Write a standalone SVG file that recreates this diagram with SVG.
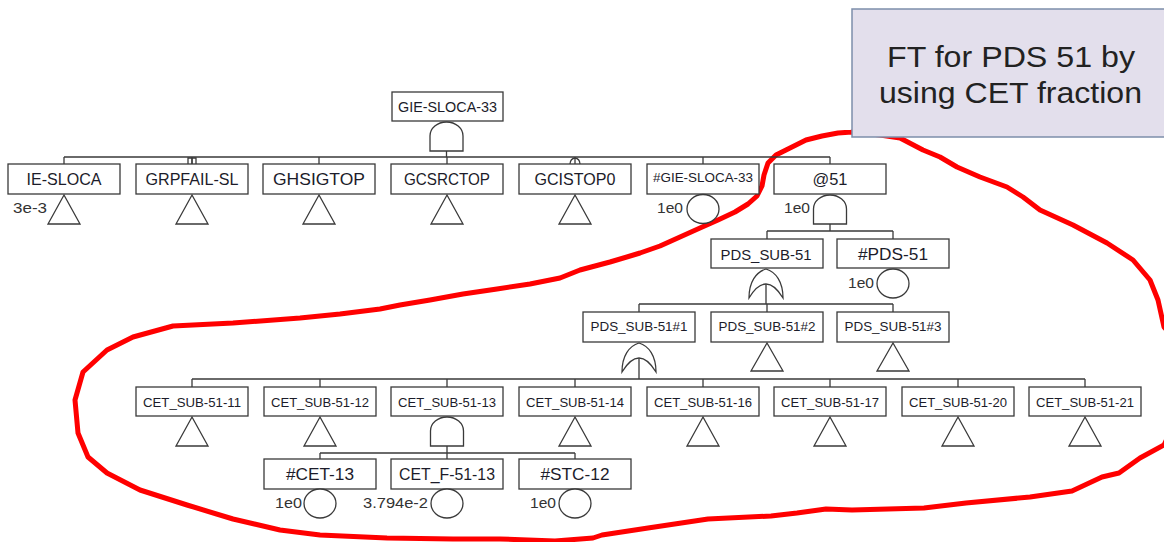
<svg xmlns="http://www.w3.org/2000/svg" width="1164" height="542" viewBox="0 0 1164 542">
<style>
.box{fill:#fff;stroke:#3a3a3a;stroke-width:1.3}
.ln{fill:none;stroke:#3a3a3a;stroke-width:1.3}
.gate{fill:#fff;stroke:#3a3a3a;stroke-width:1.3}
.t{font-family:"Liberation Sans",Arial,sans-serif;fill:#1c1c2a;text-anchor:middle}
.v{font-family:"Liberation Sans",Arial,sans-serif;fill:#333;text-anchor:end;font-size:14.5px}
.title{font-family:"Liberation Sans",Arial,sans-serif;fill:#222;font-size:30px;text-anchor:middle}
</style>
<rect width="1164" height="542" fill="#fff"/>
<!-- red annotation loop -->
<polyline fill="none" stroke="#ff0000" stroke-width="5" stroke-linejoin="round" stroke-linecap="round" points="852,132 838,133 822,136 806,140 790,148 776,155 768,163 764,175 762,186 757,196 748,204 735,212 718,220 700,228 680,237 660,246 640,253 610,262 580,270 560,278 530,284 497,289 463,294 430,300 400,305 380,309 340,314 300,318 233,323 173,326 133,337 107,350 83,372 75,400 78,433 88,457 107,473 140,490 187,505 233,519 280,530 320,535 387,538 453,539 500,539 555,541 593,538 602,535 648,528 708,519 771,516 797,513 826,509 852,510 924,508 966,503 1030,497 1072,491 1102,477 1119,473 1140,458 1164,445 1176,420 1176,340 1164,327 1158,300 1150,280 1133,260 1107,243 1073,225 1040,210 1023,197 1007,187 980,177 957,167 940,157 923,150 900,138 880,135 852,132"/>
<!-- title -->
<g id="title">
<rect x="852" y="9" width="322" height="128" fill="#e3dfec" stroke="#7d8eaa" stroke-width="1.5"/>
<text class="title" x="1011" y="67" textLength="248" lengthAdjust="spacingAndGlyphs">FT for PDS 51 by</text>
<text class="title" x="1010.5" y="103" textLength="263" lengthAdjust="spacingAndGlyphs">using CET fraction</text>
</g>
<!-- connectors -->
<g id="connectors">
<path class="ln" d="M446.5,151 V157 M64,157 H830 M64,157 V164 M192,157 V164 M319,157 V164 M447,157 V164 M575,157 V164 M703,157 V164 M830,157 V164"/>
<path class="ln" d="M188,164 V158 H196 V164 M192,158 V164"/>
<path class="ln" d="M570,164 A5,6 0 0 1 580,164"/>
<path class="ln" d="M830,224 V231 M767,231 H893 M767,231 V239 M893,231 V239"/>
<path class="ln" d="M766,284 V304 M639,304 H893 M639,304 V312 M767,304 V312 M893,304 V312"/>
<path class="ln" d="M639,358 V379 M192,379 H1085 M192,379 V387 M320,379 V387 M447,379 V387 M575,379 V387 M703,379 V387 M830,379 V387 M958,379 V387 M1085,379 V387"/>
<path class="ln" d="M447,446 V453 M320,453 H575 M320,453 V459 M447,453 V459 M575,453 V459"/>
</g>
<!-- top event -->
<g id="n-gie-sloca-33">
<rect class="box" x="392" y="92" width="111" height="29"/>
<text class="t" x="447.5" y="112" font-size="15" textLength="99" lengthAdjust="spacingAndGlyphs">GIE-SLOCA-33</text>
<path class="gate" d="M430,151 V136 A16.5,14 0 0 1 463,136 V151 Z"/>
</g>
<!-- row 1 -->
<g id="n-ie-sloca">
<rect class="box" x="8" y="164" width="112" height="30"/>
<text class="t" x="64" y="185" font-size="16.5" textLength="75" lengthAdjust="spacingAndGlyphs">IE-SLOCA</text>
<path class="gate" d="M64,195 L80,224 H48 Z"/>
<text class="v" x="47" y="213" textLength="34" lengthAdjust="spacingAndGlyphs">3e-3</text>
</g>
<g id="n-grpfail-sl">
<rect class="box" x="136" y="164" width="112" height="30"/>
<text class="t" x="192" y="185" font-size="16.5" textLength="93" lengthAdjust="spacingAndGlyphs">GRPFAIL-SL</text>
<path class="gate" d="M192,195 L208,224 H176 Z"/>
</g>
<g id="n-ghsigtop">
<rect class="box" x="263" y="164" width="112" height="30"/>
<text class="t" x="319" y="185" font-size="16.5" textLength="92" lengthAdjust="spacingAndGlyphs">GHSIGTOP</text>
<path class="gate" d="M319,195 L335,224 H303 Z"/>
</g>
<g id="n-gcsrctop">
<rect class="box" x="391" y="164" width="112" height="30"/>
<text class="t" x="447" y="185" font-size="16.5" textLength="86" lengthAdjust="spacingAndGlyphs">GCSRCTOP</text>
<path class="gate" d="M447,195 L463,224 H431 Z"/>
</g>
<g id="n-gcistop0">
<rect class="box" x="519" y="164" width="112" height="30"/>
<text class="t" x="575" y="185" font-size="16.5" textLength="81" lengthAdjust="spacingAndGlyphs">GCISTOP0</text>
<path class="gate" d="M575,195 L591,224 H559 Z"/>
</g>
<g id="n-hash-gie-sloca-33">
<rect class="box" x="647" y="164" width="112" height="30"/>
<text class="t" x="703" y="182" font-size="12.5" textLength="100" lengthAdjust="spacingAndGlyphs">#GIE-SLOCA-33</text>
<ellipse class="gate" cx="703" cy="209" rx="16" ry="14.5"/>
<text class="v" x="683" y="213" textLength="26" lengthAdjust="spacingAndGlyphs">1e0</text>
</g>
<g id="n-at51">
<rect class="box" x="774" y="164" width="112" height="30"/>
<text class="t" x="830" y="185" font-size="16.5" textLength="35" lengthAdjust="spacingAndGlyphs">@51</text>
<path class="gate" d="M813.5,224 V209 A16.5,14 0 0 1 846.5,209 V224 Z"/>
<text class="v" x="810" y="213" textLength="26" lengthAdjust="spacingAndGlyphs">1e0</text>
</g>
<!-- row 2 -->
<g id="n-pds-sub-51">
<rect class="box" x="711" y="239" width="112" height="29"/>
<text class="t" x="766" y="260" font-size="15" textLength="91" lengthAdjust="spacingAndGlyphs">PDS_SUB-51</text>
<path class="gate" d="M749,298 C749,282 756,272 766,269 C776,272 783,282 783,298 Q766,270 749,298 Z"/>
</g>
<g id="n-hash-pds-51">
<rect class="box" x="837" y="239" width="112" height="29"/>
<text class="t" x="893" y="260" font-size="16.5" textLength="70" lengthAdjust="spacingAndGlyphs">#PDS-51</text>
<ellipse class="gate" cx="893" cy="283.5" rx="16" ry="14.5"/>
<text class="v" x="874" y="288" textLength="26" lengthAdjust="spacingAndGlyphs">1e0</text>
</g>
<!-- row 3 -->
<g id="n-pds-sub-51-1">
<rect class="box" x="583" y="312" width="112" height="30"/>
<text class="t" x="639" y="331" font-size="13.5" textLength="97" lengthAdjust="spacingAndGlyphs">PDS_SUB-51#1</text>
<path class="gate" d="M622,372 C622,356 629,346 639,343 C649,346 656,356 656,372 Q639,344 622,372 Z"/>
</g>
<g id="n-pds-sub-51-2">
<rect class="box" x="711" y="312" width="112" height="30"/>
<text class="t" x="767" y="331" font-size="13.5" textLength="97" lengthAdjust="spacingAndGlyphs">PDS_SUB-51#2</text>
<path class="gate" d="M767,343 L783,371 H751 Z"/>
</g>
<g id="n-pds-sub-51-3">
<rect class="box" x="837" y="312" width="112" height="30"/>
<text class="t" x="893" y="331" font-size="13.5" textLength="97" lengthAdjust="spacingAndGlyphs">PDS_SUB-51#3</text>
<path class="gate" d="M893,343 L909,371 H877 Z"/>
</g>
<!-- row 4 -->
<g id="n-cet-11">
<rect class="box" x="136" y="387" width="112" height="29"/>
<text class="t" x="192" y="407" font-size="13" textLength="98" lengthAdjust="spacingAndGlyphs">CET_SUB-51-11</text>
<path class="gate" d="M192,417 L208,446 H176 Z"/>
</g>
<g id="n-cet-12">
<rect class="box" x="264" y="387" width="112" height="29"/>
<text class="t" x="320" y="407" font-size="13" textLength="98" lengthAdjust="spacingAndGlyphs">CET_SUB-51-12</text>
<path class="gate" d="M320,417 L336,446 H304 Z"/>
</g>
<g id="n-cet-13">
<rect class="box" x="391" y="387" width="112" height="29"/>
<text class="t" x="447" y="407" font-size="13" textLength="98" lengthAdjust="spacingAndGlyphs">CET_SUB-51-13</text>
<path class="gate" d="M430.5,446 V431 A16.5,14 0 0 1 463.5,431 V446 Z"/>
</g>
<g id="n-cet-14">
<rect class="box" x="519" y="387" width="112" height="29"/>
<text class="t" x="575" y="407" font-size="13" textLength="98" lengthAdjust="spacingAndGlyphs">CET_SUB-51-14</text>
<path class="gate" d="M575,417 L591,446 H559 Z"/>
</g>
<g id="n-cet-16">
<rect class="box" x="647" y="387" width="112" height="29"/>
<text class="t" x="703" y="407" font-size="13" textLength="98" lengthAdjust="spacingAndGlyphs">CET_SUB-51-16</text>
<path class="gate" d="M703,417 L719,446 H687 Z"/>
</g>
<g id="n-cet-17">
<rect class="box" x="774" y="387" width="112" height="29"/>
<text class="t" x="830" y="407" font-size="13" textLength="98" lengthAdjust="spacingAndGlyphs">CET_SUB-51-17</text>
<path class="gate" d="M830,417 L846,446 H814 Z"/>
</g>
<g id="n-cet-20">
<rect class="box" x="902" y="387" width="112" height="29"/>
<text class="t" x="958" y="407" font-size="13" textLength="98" lengthAdjust="spacingAndGlyphs">CET_SUB-51-20</text>
<path class="gate" d="M958,417 L974,446 H942 Z"/>
</g>
<g id="n-cet-21">
<rect class="box" x="1029" y="387" width="112" height="29"/>
<text class="t" x="1085" y="407" font-size="13" textLength="98" lengthAdjust="spacingAndGlyphs">CET_SUB-51-21</text>
<path class="gate" d="M1085,417 L1101,446 H1069 Z"/>
</g>
<!-- row 5 -->
<g id="n-hash-cet-13">
<rect class="box" x="264" y="459" width="112" height="30"/>
<text class="t" x="320" y="480" font-size="16.5" textLength="68" lengthAdjust="spacingAndGlyphs">#CET-13</text>
<ellipse class="gate" cx="320" cy="503.5" rx="16" ry="14.5"/>
<text class="v" x="302" y="508" textLength="27" lengthAdjust="spacingAndGlyphs">1e0</text>
</g>
<g id="n-cet-f-51-13">
<rect class="box" x="391" y="459" width="112" height="30"/>
<text class="t" x="447" y="480" font-size="16" textLength="96" lengthAdjust="spacingAndGlyphs">CET_F-51-13</text>
<ellipse class="gate" cx="447" cy="503.5" rx="16" ry="14.5"/>
<text class="v" x="428" y="508" textLength="65" lengthAdjust="spacingAndGlyphs">3.794e-2</text>
</g>
<g id="n-hash-stc-12">
<rect class="box" x="519" y="459" width="112" height="30"/>
<text class="t" x="575" y="480" font-size="16.5" textLength="69" lengthAdjust="spacingAndGlyphs">#STC-12</text>
<ellipse class="gate" cx="575" cy="503.5" rx="16" ry="14.5"/>
<text class="v" x="556" y="508" textLength="26" lengthAdjust="spacingAndGlyphs">1e0</text>
</g>
</svg>
